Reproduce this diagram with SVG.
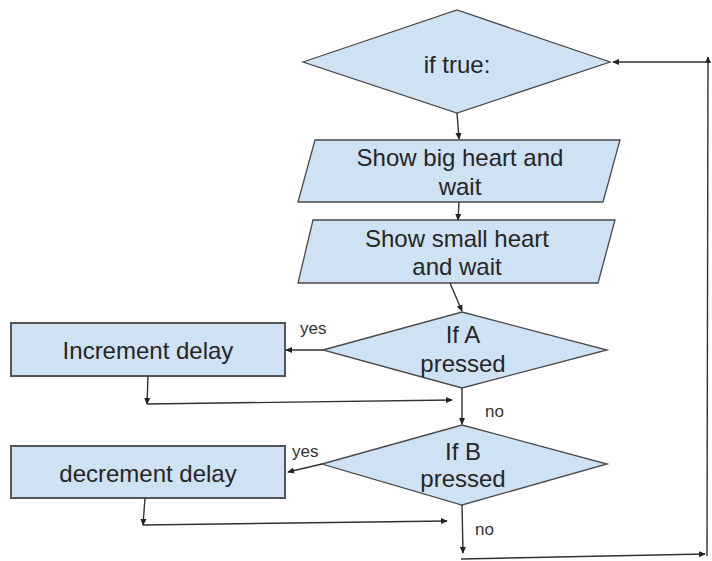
<svg xmlns="http://www.w3.org/2000/svg" width="712" height="561" viewBox="0 0 712 561">
<defs>
<style>
.shape{fill:#cfe2f3;stroke:#4a4a4a;stroke-width:1.3}
.box{fill:#cfe2f3;stroke:#555;stroke-width:2}
.t{font-family:"Liberation Sans",Arial,sans-serif;font-size:24px;fill:#262626;text-anchor:middle}
.lbl{font-family:"Liberation Sans",Arial,sans-serif;font-size:17px;fill:#333}
.c{fill:none;stroke:#333;stroke-width:1.4}
</style>
<marker id="ah" viewBox="0 0 8 8" refX="7" refY="4" markerWidth="7" markerHeight="7" markerUnits="userSpaceOnUse" orient="auto">
<path d="M0,0.5 L8,4 L0,7.5 Z" fill="#222"/>
</marker>
</defs>
<rect width="712" height="561" fill="#fff"/>
<g id="loop">
<polygon class="shape" points="303,62 457,10 610,62 457,113"/>
<text class="t" x="457" y="73">if true:</text>
</g>
<g id="bigheart">
<polygon class="shape" points="315,140 620,140 603,202 298,202"/>
<text class="t" x="460" y="166">Show big heart and</text>
<text class="t" x="460" y="195">wait</text>
</g>
<g id="smallheart">
<polygon class="shape" points="313,220 615,220 598,283 298,283"/>
<text class="t" x="457" y="247">Show small heart</text>
<text class="t" x="457" y="275">and wait</text>
</g>
<g id="ifA">
<polygon class="shape" points="323,350 462,312 607,350 462,388"/>
<text class="t" x="463" y="343">If A</text>
<text class="t" x="463" y="372">pressed</text>
</g>
<g id="increment">
<rect class="box" x="11" y="323" width="274" height="53"/>
<text class="t" x="148" y="359">Increment delay</text>
</g>
<g id="ifB">
<polygon class="shape" points="322,464 462,425 607,464 462,505"/>
<text class="t" x="463" y="460">If B</text>
<text class="t" x="463" y="487">pressed</text>
</g>
<g id="decrement">
<rect class="box" x="11" y="446" width="274" height="52"/>
<text class="t" x="148" y="482">decrement delay</text>
</g>
<g id="connectors">
<path class="c" d="M457,113 L459,139" marker-end="url(#ah)"/>
<path class="c" d="M459,202 L458,220" marker-end="url(#ah)"/>
<path class="c" d="M450,283 L462,311" marker-end="url(#ah)"/>
<path class="c" d="M323,350 L286,350" marker-end="url(#ah)"/>
<path class="c" d="M148,376 L147,404" marker-end="url(#ah)"/>
<path class="c" d="M147,404 L452,400" marker-end="url(#ah)"/>
<path class="c" d="M462,388 L462,424" marker-end="url(#ah)"/>
<path class="c" d="M322,464 L288,472" marker-end="url(#ah)"/>
<path class="c" d="M145,498 L143,525" marker-end="url(#ah)"/>
<path class="c" d="M143,525 L447,521" marker-end="url(#ah)"/>
<path class="c" d="M462,505 L463,553" marker-end="url(#ah)"/>
<path class="c" d="M461,559 L705,554" marker-end="url(#ah)"/>
<path class="c" d="M707,556 L708,57" marker-end="url(#ah)"/>
<path class="c" d="M708,62 L613,62" marker-end="url(#ah)"/>
<text class="lbl" x="300" y="334">yes</text>
<text class="lbl" x="485" y="417">no</text>
<text class="lbl" x="292" y="457">yes</text>
<text class="lbl" x="475" y="535">no</text>
</g>
</svg>
